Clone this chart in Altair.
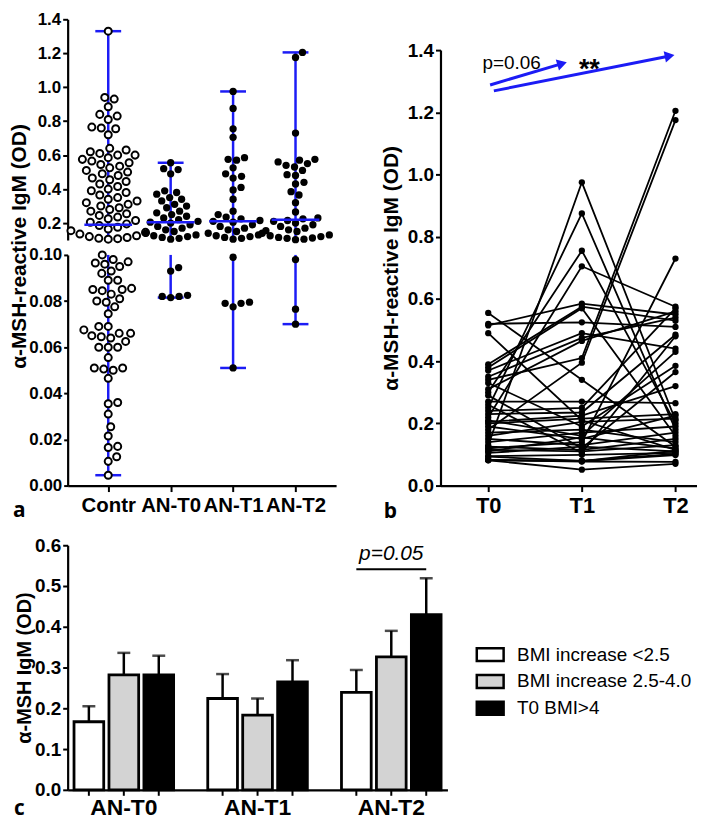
import json
import math
import altair as alt
import pandas as pd

FONT = "Liberation Sans"
LETTER_FONT = "Open Sans"
BLUE = "#1c1cf5"

# ---------------- panel a: individual values ----------------
a_groups = ["Contr", "AN-T0", "AN-T1", "AN-T2"]
contr_high = [1.33, 0.94, 0.93, 0.885, 0.84, 0.83, 0.81, 0.765, 0.76, 0.755, 0.72]
contr_mid = [0.64, 0.63, 0.62, 0.61, 0.60, 0.60, 0.585, 0.575, 0.565, 0.555, 0.545,
             0.535, 0.525, 0.51, 0.50, 0.49, 0.48, 0.465, 0.455, 0.445, 0.43, 0.415,
             0.40, 0.39, 0.38, 0.365, 0.35, 0.34, 0.33, 0.32, 0.31, 0.30, 0.29, 0.28,
             0.27, 0.255, 0.245, 0.235, 0.225, 0.215, 0.205, 0.195, 0.185, 0.175,
             0.165, 0.155, 0.145, 0.135, 0.125, 0.12, 0.115, 0.11, 0.108, 0.105]
contr_low = [0.100, 0.098, 0.097, 0.0965, 0.096, 0.095, 0.093, 0.092, 0.089, 0.089,
             0.0855, 0.085, 0.085, 0.0845, 0.083, 0.081, 0.080, 0.0795, 0.0775, 0.0745,
             0.069, 0.069, 0.0675, 0.066, 0.066, 0.065, 0.0645, 0.064, 0.0625, 0.060,
             0.060, 0.060, 0.0555, 0.051, 0.051, 0.0505, 0.050, 0.0465, 0.036, 0.0355,
             0.031, 0.0255, 0.0215, 0.017, 0.0165, 0.0125, 0.0105, 0.0045]
a_medians = [0.19, 0.205, 0.21, 0.22]

# ---------------- AN patients (same subjects, panels a and b) ----------------
b_times = ["T0", "T1", "T2"]
an_t0 = [0.13, 0.25, 0.34, 0.18, 0.12, 0.30, 0.22, 0.555, 0.52, 0.515, 0.49, 0.39,
         0.38, 0.37, 0.35, 0.33, 0.31, 0.29, 0.27, 0.26, 0.24, 0.23, 0.21, 0.205,
         0.20, 0.19, 0.17, 0.16, 0.15, 0.14, 0.125, 0.115, 0.11, 0.105, 0.0945,
         0.093, 0.0825, 0.082, 0.0815, 0.082]
an_t1 = [0.975, 0.875, 0.41, 0.395, 0.14, 0.755, 0.705, 0.34, 0.525, 0.585, 0.21,
         0.575, 0.57, 0.49, 0.475, 0.19, 0.465, 0.12, 0.27, 0.105, 0.25, 0.235, 0.16,
         0.225, 0.215, 0.15, 0.18, 0.205, 0.13, 0.17, 0.115, 0.11, 0.155, 0.125,
         0.099, 0.0795, 0.079, 0.0775, 0.051, 0.079]
an_t2 = [0.21, 0.18, 1.205, 1.175, 0.73, 0.20, 0.575, 0.125, 0.51, 0.55, 0.115,
         0.53, 0.16, 0.44, 0.54, 0.385, 0.56, 0.365, 0.265, 0.48, 0.57, 0.485, 0.43,
         0.32, 0.23, 0.225, 0.14, 0.215, 0.17, 0.19, 0.15, 0.13, 0.12, 0.11, 0.105,
         0.102, 0.098, 0.0765, 0.07, 0.112]

# panel b annotations (data coordinates)
arrow_x0 = [0.02, 0.06]
arrow_y0 = [1.288, 1.269]
arrow_x1 = [0.85, 2.0]
arrow_y1 = [1.362, 1.385]
b_texts = ["p=0.06", "**"]
b_text_x = [0.25, 1.08]
b_text_y = [1.36, 1.335]

# ---------------- panel c: bars ----------------
c_groups = ["AN-T0", "AN-T1", "AN-T2"]
c_series = ["BMI increase <2.5", "BMI increase 2.5-4.0", "T0 BMI>4"]
c_mean = {
    c_series[0]: [0.167, 0.224, 0.239],
    c_series[1]: [0.282, 0.183, 0.326],
    c_series[2]: [0.282, 0.265, 0.430],
}
c_err = {
    c_series[0]: [0.038, 0.060, 0.055],
    c_series[1]: [0.054, 0.041, 0.064],
    c_series[2]: [0.047, 0.053, 0.089],
}
c_sig_text = "p=0.05"
c_sig_line_y = 0.541
c_sig_text_y = 0.578

# ---------------- layout constants ----------------
A_W, A_HT, A_HB, A_GAP = 270, 222, 232, 15
A_XDOM = [-0.65, 3.65]
A_STEP = A_W / (A_XDOM[1] - A_XDOM[0])
B_W, B_H, B_TOP = 258, 469, 31
B_XDOM = [-0.51, 2.23]
C_W, C_H = 382, 246


def swarm_offsets(vals, ppu, diam):
    n = len(vals)
    order = sorted(range(n), key=lambda i: vals[i])
    placed = []
    offs = [0.0] * n
    steps = [0.0]
    for k in range(1, 200):
        steps += [k * 0.5, -k * 0.5]
    for i in order:
        y = vals[i] * ppu
        near = [(px, py) for px, py in placed if abs(py - y) < diam]
        x = 0.0
        for x in steps:
            if all((x - px) ** 2 + (y - py) ** 2 >= diam * diam for px, py in near):
                break
        placed.append((x, y))
        offs[i] = x
    return offs


group_vals = [contr_high + contr_mid + contr_low, an_t0, an_t1, an_t2]
rows = []
for gi, (g, vals) in enumerate(zip(a_groups, group_vals)):
    diam = 9.5 if gi == 0 else 8.3
    top = [v for v in vals if v > 0.1]
    low = [v for v in vals if v <= 0.1]
    for seg, sv, ppu in (("top", top, A_HT / 1.3), ("low", low, A_HB / 0.1)):
        offs = swarm_offsets(sv, ppu, diam)
        for v, o in zip(sv, offs):
            rows.append(dict(group=g, gi=gi, seg=seg, value=v,
                             xpos=gi + o / A_STEP, kind="open" if gi == 0 else "filled"))
df_a = pd.DataFrame(rows)

summ = pd.DataFrame({
    "gi": list(range(len(a_groups))),
    "vmin": [min(v) for v in group_vals],
    "vmax": [max(v) for v in group_vals],
    "med": a_medians,
})
summ["brk"] = 0.1
summ["cap_l"] = summ["gi"] - 13 / A_STEP
summ["cap_r"] = summ["gi"] + 13 / A_STEP
summ["med_l"] = summ["gi"] - 24 / A_STEP
summ["med_r"] = summ["gi"] + 24 / A_STEP

xs_a = alt.Scale(domain=A_XDOM, nice=False, zero=False)
ys_top = alt.Scale(domain=[0.1, 1.4], nice=False, zero=False)
ys_low = alt.Scale(domain=[0.0, 0.1], nice=False, zero=False)

ax_top_y = alt.Axis(values=[0.2, 0.4, 0.6, 0.8, 1.0, 1.2, 1.4], format=".1f", title=None,
                    labelFontSize=17, labelFontWeight="bold", tickSize=5, labelPadding=2,
                    labelFlush=False, labelOverlap=False, domainWidth=2.2, tickWidth=2)
ax_low_y = alt.Axis(values=[0, 0.02, 0.04, 0.06, 0.08, 0.10], format=".2f",
                    title="α-MSH-reactive IgM (OD)", titleFontSize=21, titleFontWeight="bold",
                    titleX=-38, titleY=-9, labelFontSize=17, labelFontWeight="bold",
                    tickSize=4, labelPadding=2, labelFlush=False, labelOverlap=False,
                    domainWidth=2.2, tickWidth=2)
ax_low_x = alt.Axis(values=[0, 1, 2, 3], labelExpr=json.dumps(a_groups) + "[datum.value]",
                    title=None, labelFontSize=20.5, labelFontWeight="bold", tickSize=6,
                    labelPadding=4, labelFlush=False, labelOverlap=False,
                    domainWidth=2.2, tickWidth=2)

df_open = df_a[df_a.kind == "open"]
df_fill = df_a[df_a.kind == "filled"]


def a_panel(seg, ys, yax, xax):
    def X(f):
        return alt.X(f, scale=xs_a, axis=xax)

    def Y(f):
        return alt.Y(f, scale=ys, axis=yax)

    if seg == "top":
        rng = alt.Chart(summ).mark_rule(color=BLUE, strokeWidth=2.5).encode(
            x=X("gi:Q"), y=Y("brk:Q"), y2="vmax:Q")
        cap = alt.Chart(summ).mark_rule(color=BLUE, strokeWidth=2.5).encode(
            x=X("cap_l:Q"), x2="cap_r:Q", y=Y("vmax:Q"))
    else:
        rng = alt.Chart(summ).mark_rule(color=BLUE, strokeWidth=2.5).encode(
            x=X("gi:Q"), y=Y("vmin:Q"), y2="brk:Q")
        cap = alt.Chart(summ).mark_rule(color=BLUE, strokeWidth=2.5).encode(
            x=X("cap_l:Q"), x2="cap_r:Q", y=Y("vmin:Q"))
    p_open = alt.Chart(df_open[df_open.seg == seg]).mark_point(
        shape="circle", filled=True, fill="white", stroke="black", strokeWidth=2,
        size=50, opacity=1).encode(x=X("xpos:Q"), y=Y("value:Q"))
    p_fill = alt.Chart(df_fill[df_fill.seg == seg]).mark_circle(
        color="black", size=54, opacity=1).encode(x=X("xpos:Q"), y=Y("value:Q"))
    layers = [rng, cap, p_open, p_fill]
    if seg == "top":
        med = alt.Chart(summ).mark_rule(color=BLUE, strokeWidth=2.5).encode(
            x=X("med_l:Q"), x2="med_r:Q", y=Y("med:Q"))
        layers.append(med)
    else:
        letter = alt.Chart(pd.DataFrame({"t": ["a"]})).mark_text(
            font=LETTER_FONT, fontSize=21, fontWeight="bold", align="left",
            baseline="middle", color="black").encode(
            x=alt.value(-55), y=alt.value(A_HB + 26), text="t:N")
        layers.append(letter)
    return alt.layer(*layers)


a_top = a_panel("top", ys_top, ax_top_y, None).properties(width=A_W, height=A_HT)
a_low = a_panel("low", ys_low, ax_low_y, ax_low_x).properties(width=A_W, height=A_HB)
panel_a = alt.vconcat(a_top, a_low, spacing=A_GAP, bounds="flush")

# ---------------- panel b ----------------
b_rows = []
for s, vals in enumerate(zip(an_t0, an_t1, an_t2)):
    for t, v in enumerate(vals):
        b_rows.append(dict(subj=s, t=t, value=v))
df_b = pd.DataFrame(b_rows)

xs_b = alt.Scale(domain=B_XDOM, nice=False, zero=False)
ys_b = alt.Scale(domain=[0, 1.4], range=[B_H, B_TOP], nice=False, zero=False)
ax_b_x = alt.Axis(values=[0, 1, 2], labelExpr=json.dumps(b_times) + "[datum.value]",
                  title=None, labelFontSize=22, labelFontWeight="bold", tickSize=6,
                  labelPadding=4, labelFlush=False, labelOverlap=False,
                  domainWidth=2.2, tickWidth=2)
ax_b_y = alt.Axis(values=[0, 0.2, 0.4, 0.6, 0.8, 1.0, 1.2, 1.4], format=".1f",
                  title="α-MSH-reactive IgM (OD)", titleFontSize=21, titleFontWeight="bold",
                  titlePadding=6, labelFontSize=19, labelFontWeight="bold", tickSize=5,
                  labelPadding=2, labelFlush=False, labelOverlap=False,
                  domainWidth=2.2, tickWidth=2)


def BX(f):
    return alt.X(f, scale=xs_b, axis=ax_b_x)


def BY(f):
    return alt.Y(f, scale=ys_b, axis=ax_b_y)


bx_ppu = B_W / (B_XDOM[1] - B_XDOM[0])
by_ppu = (B_H - B_TOP) / 1.4
ar_lines, ar_heads = [], []
for i in range(len(arrow_x0)):
    dxs = (arrow_x1[i] - arrow_x0[i]) * bx_ppu
    dys = -(arrow_y1[i] - arrow_y0[i]) * by_ppu
    ln = math.hypot(dxs, dys)
    ux, uy = dxs / ln, dys / ln
    hx = arrow_x1[i] - 6 * ux / bx_ppu
    hy = arrow_y1[i] + 6 * uy / by_ppu
    ang = math.degrees(math.atan2(dys, dxs)) % 360
    ar_lines.append(dict(a=i, x=arrow_x0[i], y=arrow_y0[i], o=0))
    ar_lines.append(dict(a=i, x=hx, y=hy, o=1))
    ar_heads.append(dict(a=i, x=hx, y=hy, ang=ang))
df_arl = pd.DataFrame(ar_lines)
df_arh = pd.DataFrame(ar_heads)
df_bt = pd.DataFrame({"t": b_texts, "x": b_text_x, "y": b_text_y})

b_lines = alt.Chart(df_b).mark_line(color="black", strokeWidth=1.8).encode(
    x=BX("t:Q"), y=BY("value:Q"), detail="subj:N")
b_pts = alt.Chart(df_b).mark_circle(color="black", size=40, opacity=1).encode(
    x=BX("t:Q"), y=BY("value:Q"))
b_arl = alt.Chart(df_arl).mark_line(color=BLUE, strokeWidth=3).encode(
    x=BX("x:Q"), y=BY("y:Q"), detail="a:N", order="o:Q")
b_arh = alt.Chart(df_arh).mark_point(shape="triangle-right", filled=True, color=BLUE,
                                     size=130, opacity=1).encode(
    x=BX("x:Q"), y=BY("y:Q"), angle=alt.Angle("ang:Q", scale=None))
b_t1 = alt.Chart(df_bt[df_bt.t == b_texts[0]]).mark_text(
    font=FONT, fontSize=19, color="black").encode(x=BX("x:Q"), y=BY("y:Q"), text="t:N")
b_t2 = alt.Chart(df_bt[df_bt.t == b_texts[1]]).mark_text(
    font=FONT, fontSize=27, fontWeight="bold", color="black").encode(
    x=BX("x:Q"), y=BY("y:Q"), text="t:N")
b_letter = alt.Chart(pd.DataFrame({"t": ["b"]})).mark_text(
    font=LETTER_FONT, fontSize=21, fontWeight="bold", align="left", baseline="middle",
    color="black").encode(x=alt.value(-57), y=alt.value(B_H + 27), text="t:N")
panel_b = alt.layer(b_lines, b_pts, b_arl, b_arh, b_t1, b_t2, b_letter).properties(
    width=B_W, height=B_H)

# ---------------- panel c ----------------
c_rows = []
for s in c_series:
    for g, m, e in zip(c_groups, c_mean[s], c_err[s]):
        c_rows.append(dict(group=g, series=s, mean=m, top=m + e))
df_c = pd.DataFrame(c_rows)

xs_c = alt.Scale(domain=c_groups, paddingInner=0.216, paddingOuter=0.028)
ax_c_x = alt.Axis(title=None, ticks=False, labelFontSize=23, labelFontWeight="bold",
                  labelPadding=7, labelAngle=0, domainWidth=2.2)
ys_c = alt.Scale(domain=[0, 0.6], nice=False, zero=True)
ax_c_y = alt.Axis(values=[0, 0.1, 0.2, 0.3, 0.4, 0.5, 0.6], format=".1f",
                  title="α-MSH IgM (OD)", titleFontSize=20, titleFontWeight="bold",
                  titlePadding=0, labelFontSize=19, labelFontWeight="bold", tickSize=5,
                  labelPadding=2, labelFlush=False, labelOverlap=False,
                  domainWidth=2.2, tickWidth=2)
xo_scale = alt.Scale(domain=c_series, paddingInner=0.15, paddingOuter=0.075)


def CX():
    return alt.X("group:N", scale=xs_c, axis=ax_c_x, sort=c_groups)


def CXO():
    return alt.XOffset("series:N", scale=xo_scale, sort=c_series)


def CY(f):
    return alt.Y(f, scale=ys_c, axis=ax_c_y)


c_bars = alt.Chart(df_c).mark_bar(stroke="black", strokeWidth=2.8, opacity=1).encode(
    x=CX(), xOffset=CXO(), y=CY("mean:Q"),
    fill=alt.Fill("series:N", scale=alt.Scale(domain=c_series,
                                              range=["white", "#d3d3d3", "black"]),
                  legend=alt.Legend(title=None, orient="none", legendX=410, legendY=95,
                                    symbolType="M-1,-0.48L1,-0.48L1,0.48L-1,0.48Z",
                                    symbolSize=729, symbolStrokeColor="black",
                                    symbolStrokeWidth=2.5, symbolOpacity=1,
                                    labelFont=FONT, labelFontSize=19, labelColor="black",
                                    labelOffset=12, rowPadding=0, labelLimit=0)))
c_err_rule = alt.Chart(df_c).mark_rule(color="black", strokeWidth=2.5).encode(
    x=CX(), xOffset=CXO(), y=CY("mean:Q"), y2="top:Q")
c_caps = alt.Chart(df_c).mark_tick(color="black", thickness=2.5, size=13,
                                   orient="horizontal").encode(
    x=CX(), xOffset=CXO(), y=CY("top:Q"))
c_ticks = alt.Chart(df_c).mark_rule(color="black", strokeWidth=2).encode(
    x=CX(), xOffset=CXO(), y=alt.value(C_H), y2=alt.value(C_H + 6))
df_sig = pd.DataFrame({"group": [c_groups[2], c_groups[2]],
                       "series": [c_series[0], c_series[2]],
                       "yv": [c_sig_line_y, c_sig_line_y]})
c_sig = alt.Chart(df_sig).mark_line(color="black", strokeWidth=2).encode(
    x=CX(), xOffset=CXO(), y=CY("yv:Q"))
df_sigt = pd.DataFrame({"group": [c_groups[2]], "series": [c_series[1]],
                        "yv": [c_sig_text_y], "t": [c_sig_text]})
c_sigt = alt.Chart(df_sigt).mark_text(font=FONT, fontSize=21, fontStyle="italic",
                                      color="black").encode(
    x=CX(), xOffset=CXO(), y=CY("yv:Q"), text="t:N")
c_letter = alt.Chart(pd.DataFrame({"t": ["c"]})).mark_text(
    font=LETTER_FONT, fontSize=21, fontWeight="bold", align="left", baseline="middle",
    color="black").encode(x=alt.value(-54), y=alt.value(C_H + 19), text="t:N")
panel_c = alt.layer(c_bars, c_err_rule, c_caps, c_ticks, c_sig, c_sigt, c_letter).properties(
    width=C_W, height=C_H)

row1 = alt.hconcat(panel_a, panel_b, spacing=44)
chart = alt.vconcat(row1, panel_c, spacing=14).resolve_legend(
    fill="independent").properties(padding=0).configure_view(
    stroke=None).configure_axis(
    grid=False, domainColor="black", tickColor="black", labelColor="black",
    titleColor="black", labelFont=FONT, titleFont=FONT)

chart.save("out.html", embed_options={"renderer": "svg", "actions": False})
